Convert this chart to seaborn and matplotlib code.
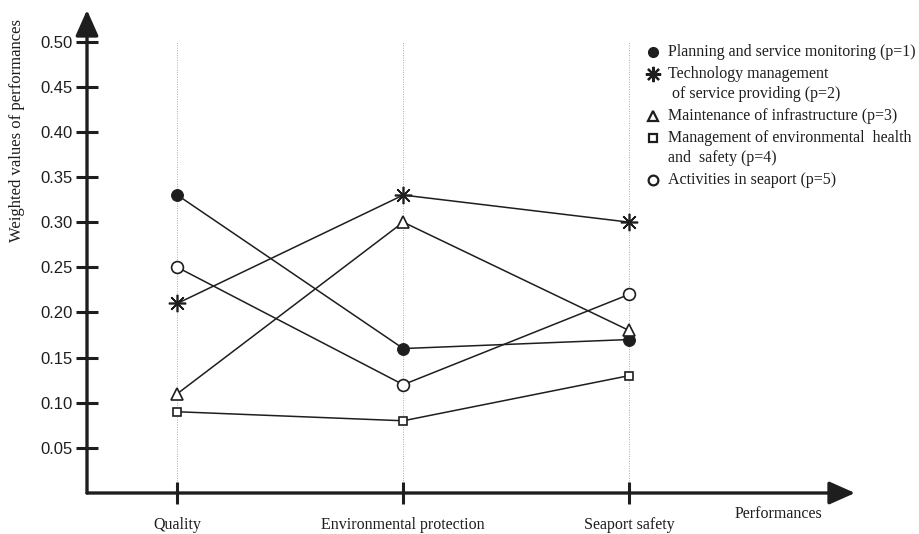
import numpy as np
import pandas as pd
import matplotlib
matplotlib.use("Agg")
import matplotlib.pyplot as plt
from matplotlib.lines import Line2D
import seaborn as sns

categories = ["Quality", "Environmental protection", "Seaport safety"]
series_names = [
    "Planning and service monitoring (p=1)",
    "Technology management\n of service providing (p=2)",
    "Maintenance of infrastructure (p=3)",
    "Management of environmental  health\nand  safety (p=4)",
    "Activities in seaport (p=5)",
]
planning = [0.33, 0.16, 0.17]
technology = [0.21, 0.33, 0.30]
maintenance = [0.11, 0.30, 0.18]
env_health = [0.09, 0.08, 0.13]
activities = [0.25, 0.12, 0.22]
y_ticks = [0.05, 0.10, 0.15, 0.20, 0.25, 0.30, 0.35, 0.40, 0.45, 0.50]

sns.set_theme(style="white")
plt.rcParams["font.family"] = ["Liberation Serif", "DejaVu Serif"]

INK = "#1e1e1e"
W, H = 919, 534
fig = plt.figure(figsize=(W / 100, H / 100), dpi=100)
ax = fig.add_axes([87 / W, 41 / H, 768 / W, 483 / H])

pos = np.arange(len(categories))
styles = [
    dict(marker="o", markersize=8.5, markerfacecolor=INK, markeredgecolor=INK),
    dict(marker=(8, 2, 0), markersize=12.5, markeredgewidth=1.2, markeredgecolor=INK),
    dict(marker="^", markersize=8.5, markerfacecolor="white", markeredgecolor=INK, markeredgewidth=1.2),
    dict(marker="s", markersize=6, markerfacecolor="white", markeredgecolor=INK, markeredgewidth=1.2),
    dict(marker="o", markersize=8.5, markerfacecolor="white", markeredgecolor=INK, markeredgewidth=1.2),
]
data = [planning, technology, maintenance, env_health, activities]

for xi in pos:
    ax.plot([xi, xi], [0, 0.50], color="#aaaaaa", lw=0.7, ls=(0, (1, 1.5)), zorder=0)

for vals, st in zip(data, styles):
    df = pd.DataFrame({"x": pos, "y": vals})
    sns.lineplot(data=df, x="x", y="y", ax=ax, color=INK, lw=1.1, zorder=3, **st)

ax.set_xlim(-0.4, 3.0)
ax.set_ylim(0, 0.535)
for s in ax.spines.values():
    s.set_visible(False)

arrow = dict(arrowstyle="-|>,head_length=0.45,head_width=0.2", lw=2.4, color=INK,
             mutation_scale=35, shrinkA=0, shrinkB=0)
ax.annotate("", xy=(0, 1.0), xytext=(0, 0), xycoords="axes fraction", arrowprops=arrow)
ax.annotate("", xy=(1.0, 0), xytext=(0, 0), xycoords="axes fraction", arrowprops=arrow)

ax.set_yticks(y_ticks)
ax.set_yticklabels([f"{v:.2f}" for v in y_ticks], fontfamily="Liberation Sans", fontsize=12, color=INK)
ax.set_xticks(pos)
ax.set_xticklabels(categories, fontsize=11.5, color=INK)
ax.tick_params(axis="y", direction="inout", length=16, width=2.2, color=INK, pad=2, left=True)
ax.tick_params(axis="x", direction="inout", length=16, width=2.2, color=INK, pad=9, bottom=True)
ax.set_xlabel("")
ax.set_ylabel("")
ax.grid(False)

fig.text(17 / W, 1 - 130 / H, "Weighted values of performances", rotation=90,
         ha="center", va="center", fontsize=12, color=INK)
fig.text(778 / W, 1 - 514 / H, "Performances", ha="center", va="center",
         fontsize=11.5, color=INK)

# legend drawn as marker + text rows
leg_sizes = [7, 11, 7, 5.5, 7]
line_h = 20.3
y_px = 52
for name, st, ms in zip(series_names, styles, leg_sizes):
    kw = dict(st)
    kw["markersize"] = ms
    if kw.get("markeredgewidth"):
        kw["markeredgewidth"] = 1.6
    fig.add_artist(Line2D([653 / W], [1 - y_px / H], ls="none", color=INK,
                          transform=fig.transFigure, **kw))
    for j, ln in enumerate(name.split("\n")):
        fig.text(668 / W, 1 - (y_px + j * line_h) / H, ln, ha="left", va="center",
                 fontsize=11.5, color=INK)
    y_px += line_h * (len(name.split("\n"))) + 1.5

fig.savefig("out.png", dpi=100, facecolor="white")
